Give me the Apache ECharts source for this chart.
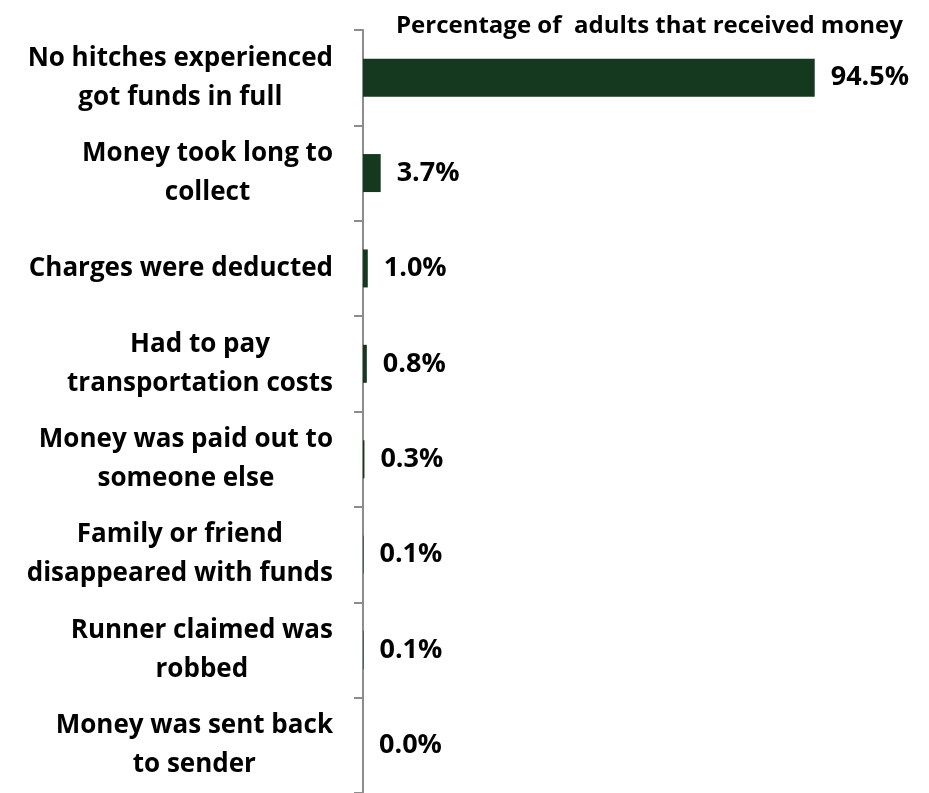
<!DOCTYPE html>
<html>
<head>
<meta charset="utf-8">
<script src="https://cdn.jsdelivr.net/npm/echarts@6/dist/echarts.min.js"></script>
<style>
  html, body { margin: 0; padding: 0; background: #fff; }
  #chart { width: 929px; height: 793px; }
</style>
</head>
<body>
<div id="chart"></div>
<script>
// Problems reported when receiving money (share of adults who received money)
const categories = [
  'No hitches experienced\ngot funds in full',
  'Money took long to\ncollect',
  'Charges were deducted',
  'Had to pay\ntransportation costs',
  'Money was paid out to\nsomeone else',
  'Family or friend\ndisappeared with funds',
  'Runner claimed was\nrobbed',
  'Money was sent back\nto sender'
];
const values = [94.5, 3.7, 1.0, 0.8, 0.3, 0.1, 0.1, 0.0];
const chartTitle = 'Percentage of  adults that received money';

const FONT = '"Open Sans", sans-serif';
const chart = echarts.init(document.getElementById('chart'), null, { renderer: 'canvas' });

chart.setOption({
  animation: false,
  backgroundColor: '#ffffff',
  title: {
    text: chartTitle,
    left: 391,
    top: 9,
    textStyle: { fontFamily: FONT, fontWeight: 'bold', fontSize: 24, color: '#000' }
  },
  grid: { left: 363, top: 30, width: 478, height: 765, containLabel: false },
  xAxis: {
    type: 'value',
    min: 0,
    max: 100,
    show: false
  },
  yAxis: {
    type: 'category',
    inverse: true,
    data: categories,
    axisLine: { show: true, lineStyle: { color: '#8c8c8c', width: 2 } },
    axisTick: { show: true, length: 9, lineStyle: { color: '#8c8c8c', width: 2 } },
    axisLabel: {
      margin: 30,
      formatter: function (v) {
        return v.split('\n').map(function (s) { return '{c|' + s + '}'; }).join('\n');
      },
      rich: {
        c: { align: 'center', fontFamily: FONT, fontWeight: 'bold', fontSize: 26, lineHeight: 39, color: '#000' }
      }
    }
  },
  series: [{
    type: 'bar',
    data: values,
    barWidth: 38,
    itemStyle: { color: '#14391f' },
    label: {
      show: true,
      position: 'right',
      distance: 16,
      formatter: function (p) { return p.value.toFixed(1) + '%'; },
      fontFamily: FONT,
      fontWeight: 'bold',
      fontSize: 27,
      color: '#000'
    }
  }]
});
</script>
</body>
</html>
